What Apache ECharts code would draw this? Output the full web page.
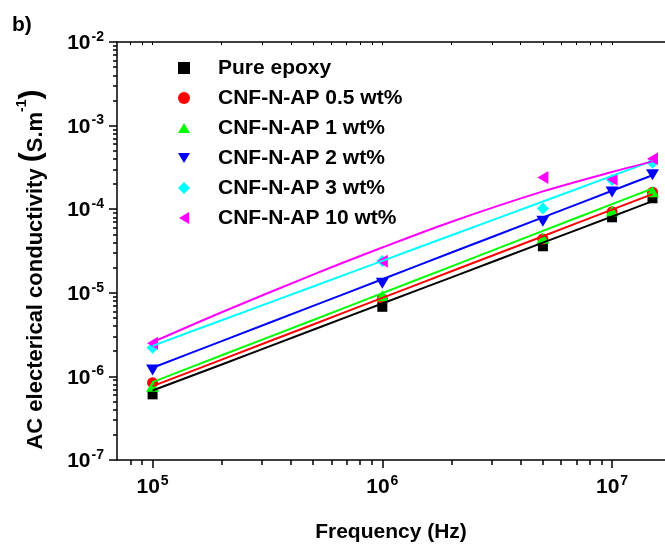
<!DOCTYPE html>
<html><head><meta charset="utf-8">
<script src="https://cdn.jsdelivr.net/npm/echarts@6/dist/echarts.min.js"></script>
<style>html,body{margin:0;padding:0;background:#fff}#c{width:665px;height:548px}</style>
</head><body><div id="c"></div>
<script>
// ---- data ----
const markerFreq = [1e5, 1e6, 5e6, 1e7, 1.5e7];
const pureEpoxy = [6.1e-7, 6.8e-6, 3.6e-5, 8.0e-5, 1.35e-4];
const cnf05 = [8.4e-7, 8.5e-6, 4.4e-5, 9.3e-5, 1.6e-4];
const cnf1 = [7.6e-7, 9.2e-6, 4.5e-5, 9.5e-5, 1.62e-4];
const cnf2 = [1.19e-6, 1.3e-5, 7.2e-5, 1.61e-4, 2.58e-4];
const cnf3 = [2.2e-6, 2.4e-5, 1.02e-4, 2.24e-4, 3.6e-4];
const cnf10 = [2.5e-6, 2.38e-5, 2.39e-4, 2.28e-4, 4.0e-4];

const fitFreq = [1e5, 2e5, 5e5, 1e6, 2e6, 5e6, 1e7, 1.5e7];
const fitPure = [6.78e-7, 1.39e-6, 3.62e-6, 7.45e-6, 1.53e-5, 3.98e-5, 8.18e-5, 1.247e-4];
const fit05 = [7.64e-7, 1.59e-6, 4.18e-6, 8.69e-6, 1.81e-5, 4.75e-5, 9.89e-5, 1.517e-4];
const fit1 = [8.53e-7, 1.79e-6, 4.73e-6, 9.91e-6, 2.07e-5, 5.50e-5, 1.151e-4, 1.77e-4];
const fit2 = [1.268e-6, 2.64e-6, 6.97e-6, 1.452e-5, 3.03e-5, 7.98e-5, 1.663e-4, 2.55e-4];
const fit3 = [2.32e-6, 4.70e-6, 1.191e-5, 2.41e-5, 4.88e-5, 1.236e-4, 2.50e-4, 3.78e-4];
const fit10 = [2.57e-6, 5.86e-6, 1.652e-5, 3.48e-5, 7.08e-5, 1.633e-4, 2.79e-4, 3.73e-4];

const seriesNames = ['Pure epoxy', 'CNF-N-AP 0.5 wt%', 'CNF-N-AP 1 wt%', 'CNF-N-AP 2 wt%', 'CNF-N-AP 3 wt%', 'CNF-N-AP 10 wt%'];
const xMajorTicks = [1e5, 1e6, 1e7];
const xMinorTicks = [8e4, 9e4, 2e5, 3e5, 4e5, 5e5, 6e5, 7e5, 8e5, 9e5, 2e6, 3e6, 4e6, 5e6, 6e6, 7e6, 8e6, 9e6];
const yMajorTicks = [1e-7, 1e-6, 1e-5, 1e-4, 1e-3, 1e-2];
const yMinorTicks = [];
[1e-7, 1e-6, 1e-5, 1e-4, 1e-3].forEach(d => { for (let k = 2; k <= 9; k++) yMinorTicks.push(+(k * d).toPrecision(3)); });
const xAxisTitle = 'Frequency (Hz)';
const panelLabel = 'b)';

// ---- styling ----
const FONT = '"Liberation Sans", Arial, sans-serif';
const colors = ['#000000', '#ff0000', '#00ff00', '#0000ff', '#00ffff', '#ff00ff'];
const SYM_UP = 'path://M1,0L2,1.7L0,1.7Z';
const SYM_DOWN = 'path://M0,0L2,0L1,1.7Z';
const SYM_LEFT = 'path://M0,1L1.7,0L1.7,2Z';
const SYM_DIAMOND = 'path://M1,0L2,1L1,2L0,1Z';
const symbols = ['rect', 'circle', SYM_UP, SYM_DOWN, SYM_DIAMOND, SYM_LEFT];
const sizes = [10, 11, [13, 11], [13, 11], 12, [11, 13]];
const markerData = [pureEpoxy, cnf05, cnf1, cnf2, cnf3, cnf10];
const fitData = [fitPure, fit05, fit1, fit2, fit3, fit10];

const supRich = {
  b: { fontFamily: FONT, fontSize: 21, fontWeight: 'bold', color: '#000', lineHeight: 24, verticalAlign: 'bottom' },
  s: { fontFamily: FONT, fontSize: 14, fontWeight: 'bold', color: '#000', lineHeight: 14, verticalAlign: 'top', padding: [0, 0, 0, 1] }
};
const powFmt = v => '{b|10}{s|' + Math.round(Math.log10(v)) + '}';

const series = [];
markerData.forEach((arr, i) => {
  series.push({
    name: seriesNames[i], type: 'scatter', xAxisIndex: 0, yAxisIndex: 0,
    symbol: symbols[i], symbolSize: sizes[i],
    itemStyle: { color: colors[i], opacity: 1 }, z: 2,
    data: markerFreq.map((f, j) => [f, arr[j]])
  });
});
fitData.forEach((arr, i) => {
  series.push({
    name: seriesNames[i] + ' fit', type: 'line', xAxisIndex: 0, yAxisIndex: 0,
    showSymbol: false, smooth: 0.3, silent: true, z: 3,
    lineStyle: { color: colors[i], width: 2 },
    data: fitFreq.map((f, j) => [f, arr[j]])
  });
});

const XMIN = 7e4, XMAX = 1.7e7, YMIN = 1e-7, YMAX = 1e-2;
const chart = echarts.init(document.getElementById('c'), null, { renderer: 'canvas' });
chart.setOption({
  animation: false,
  backgroundColor: '#fff',
  title: { text: panelLabel, left: 7, top: 10, textStyle: { fontFamily: FONT, fontSize: 21, fontWeight: 'bold', color: '#000' } },
  grid: { left: 117, right: -5, top: 42, bottom: 86, containLabel: false },
  legend: {
    orient: 'vertical', left: 173, top: 51, itemWidth: 12, itemHeight: 12, itemGap: 6,
    data: seriesNames.map((n, i) => ({ name: n, icon: symbols[i] })), selectedMode: false,
    textStyle: { fontFamily: FONT, fontSize: 21, fontWeight: 'bold', color: '#000', lineHeight: 24, padding: [0, 0, 0, 23] }
  },
  xAxis: [
    {
      type: 'log', logBase: 10, min: XMIN, max: XMAX, position: 'bottom',
      axisLine: { show: true, lineStyle: { color: '#000', width: 1.5 } },
      axisTick: { show: true, inside: false, length: 8, customValues: xMajorTicks, lineStyle: { color: '#000', width: 1.5 } },
      axisLabel: { show: true, customValues: xMajorTicks, margin: 14, formatter: powFmt, rich: supRich },
      splitLine: { show: false },
      name: xAxisTitle, nameLocation: 'middle', nameGap: 62,
      nameTextStyle: { fontFamily: FONT, fontSize: 21, fontWeight: 'bold', color: '#000' }
    },
    {
      type: 'log', logBase: 10, min: XMIN, max: XMAX, position: 'bottom',
      axisLine: { show: false },
      axisTick: { show: true, inside: false, length: 5, customValues: xMinorTicks, lineStyle: { color: '#000', width: 1.5 } },
      axisLabel: { show: false }, splitLine: { show: false }
    },
    {
      type: 'log', logBase: 10, min: XMIN, max: XMAX, position: 'top',
      axisLine: { show: true, lineStyle: { color: '#000', width: 1.5 } },
      axisTick: { show: true, inside: true, length: 3, customValues: xMajorTicks.concat(xMinorTicks), lineStyle: { color: '#000', width: 1 } },
      axisLabel: { show: false }, splitLine: { show: false }
    }
  ],
  yAxis: [
    {
      type: 'log', logBase: 10, min: YMIN, max: YMAX, position: 'left',
      axisLine: { show: true, lineStyle: { color: '#000', width: 1.5 } },
      axisTick: { show: true, inside: false, length: 8, customValues: yMajorTicks, lineStyle: { color: '#000', width: 1.5 } },
      axisLabel: { show: true, customValues: yMajorTicks, margin: 13, formatter: powFmt, rich: supRich },
      splitLine: { show: false },
      name: '{t|AC electerical conductivity }{p|(}{t|S.m}{s|-1}{p|)}',
      nameLocation: 'middle', nameRotate: 90, nameGap: 70,
      nameTextStyle: {
        padding: [0, 37, 0, 0],
        rich: {
          t: { fontFamily: FONT, fontSize: 22, fontWeight: 'bold', color: '#000', lineHeight: 28, verticalAlign: 'bottom' },
          p: { fontFamily: FONT, fontSize: 30, fontWeight: 'bold', color: '#000', lineHeight: 32, verticalAlign: 'bottom' },
          s: { fontFamily: FONT, fontSize: 14, fontWeight: 'bold', color: '#000', lineHeight: 14, verticalAlign: 'top' }
        }
      }
    },
    {
      type: 'log', logBase: 10, min: YMIN, max: YMAX, position: 'left',
      axisLine: { show: false },
      axisTick: { show: true, inside: false, length: 4, customValues: yMinorTicks, lineStyle: { color: '#000', width: 1.5 } },
      axisLabel: { show: false }, splitLine: { show: false }
    }
  ],
  series: series
});
</script></body></html>
